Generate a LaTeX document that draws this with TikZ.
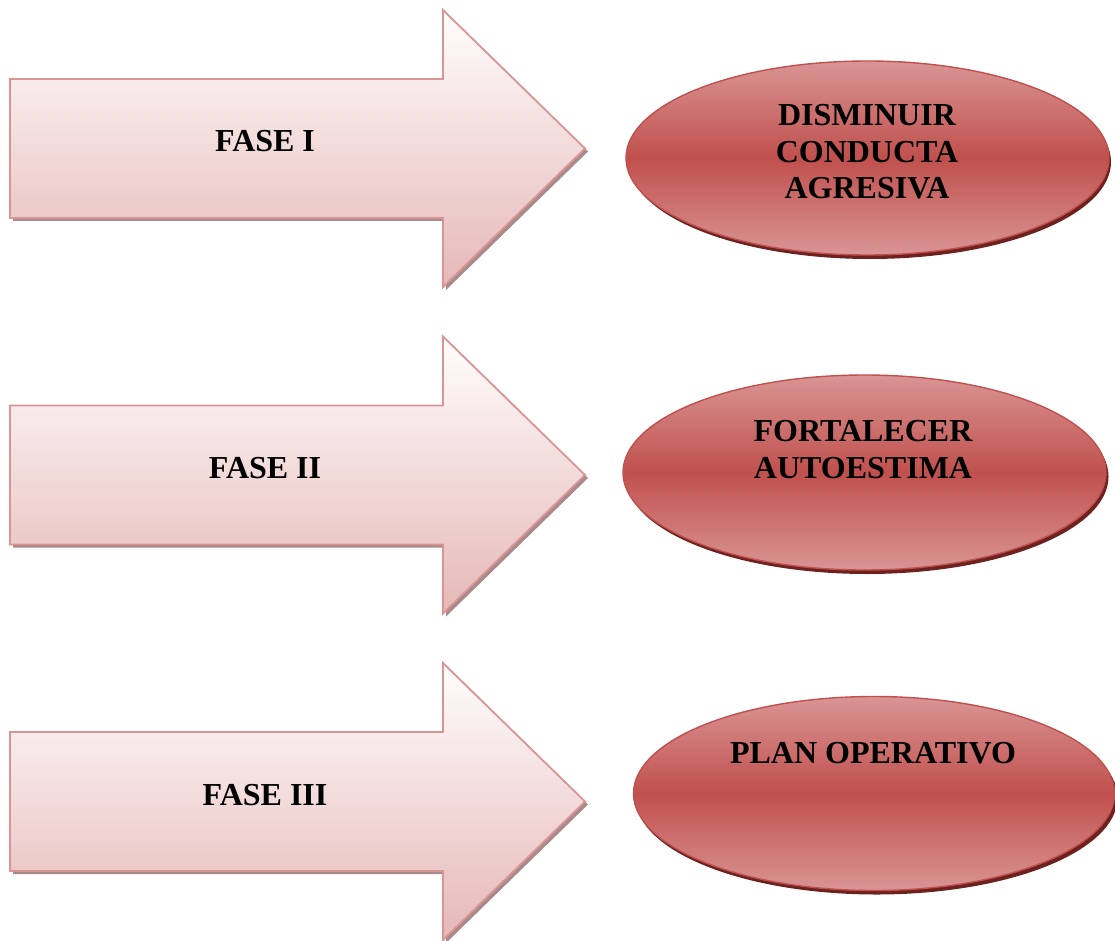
\documentclass[tikz,border=0pt]{standalone}
\usepackage{fontspec}
\setmainfont{Liberation Serif}
\usetikzlibrary{calc}

\definecolor{arrowline}{HTML}{D99594}
\definecolor{arrowtop}{HTML}{FFFDFD}
\definecolor{arrowbot}{HTML}{E5B8B7}
\definecolor{arrowshade}{HTML}{A88A8A}
\definecolor{ovalline}{HTML}{C0504D}
\definecolor{ovalmid}{HTML}{C0504D}
\definecolor{ovaledge}{HTML}{D99594}
\definecolor{ovalshade}{HTML}{6E2220}

\tikzset{
  phasearrow/.style={draw=arrowline, line width=1.8pt, line join=miter,
    top color=arrowtop, bottom color=arrowbot},
  arrowshadow/.style={fill=arrowshade},
  ovalbody/.style={draw=ovalline, line width=1.4pt,
    top color=ovaledge, bottom color=ovaledge, middle color=ovalmid},
  ovalshadow/.style={fill=ovalshade},
  label/.style={font=\fontsize{32}{36.7}\selectfont\bfseries, text=black,
    align=center, inner sep=0pt},
}

% one block arrow: #1 = vertical centre, #2 = name
\newcommand{\phasearrow}[2]{%
  \coordinate (#2-c) at (0,#1);
  \fill[arrowshadow] ($(#2-c)+(13,-66.5)$) -- ++(433,0) -- ++(0,-69)
     -- ($(#2-c)+(588,3)$) -- ($(#2-c)+(446,141.5)$) -- ++(0,-69)
     -- ++(-433,0) -- cycle;
  \draw[phasearrow] ($(#2-c)+(10,-69.5)$) -- ++(433,0) -- ++(0,-69)
     -- ($(#2-c)+(585,0)$) -- ($(#2-c)+(443,138.5)$) -- ++(0,-69)
     -- ++(-433,0) -- cycle;
}

\begin{document}
\begin{tikzpicture}[x=1pt,y=-1pt]
\useasboundingbox (0,0) rectangle (1115,941);

% arrows
\phasearrow{148.5}{a1}
\phasearrow{475}{a2}
\phasearrow{801.5}{a3}

\node[label] (f1) at (265,141) {FASE I};
\node[label] (f2) at (265,468) {FASE II};
\node[label] (f3) at (265,795) {FASE III};

% ovals
\fill[ovalshadow] (870,162) ellipse [x radius=241, y radius=97];
\draw[ovalbody] (867.5,158) ellipse [x radius=241.5, y radius=97];
\fill[ovalshadow] (867,476.5) ellipse [x radius=241.5, y radius=97.5];
\draw[ovalbody] (864.5,472.5) ellipse [x radius=241.5, y radius=97.5];
\fill[ovalshadow] (876.5,797.5) ellipse [x radius=241, y radius=97];
\draw[ovalbody] (874,793.5) ellipse [x radius=240.5, y radius=97];

% labels set on the baseline of their last line
\node[label, anchor=base] (o1) at (867,199)
  {DISMINUIR\\CONDUCTA\\AGRESIVA};
\node[label, anchor=base] (o2) at (863,478.5) {FORTALECER\\AUTOESTIMA};
\node[label, anchor=base] (o3) at (873,763) {PLAN OPERATIVO};
\end{tikzpicture}
\end{document}
